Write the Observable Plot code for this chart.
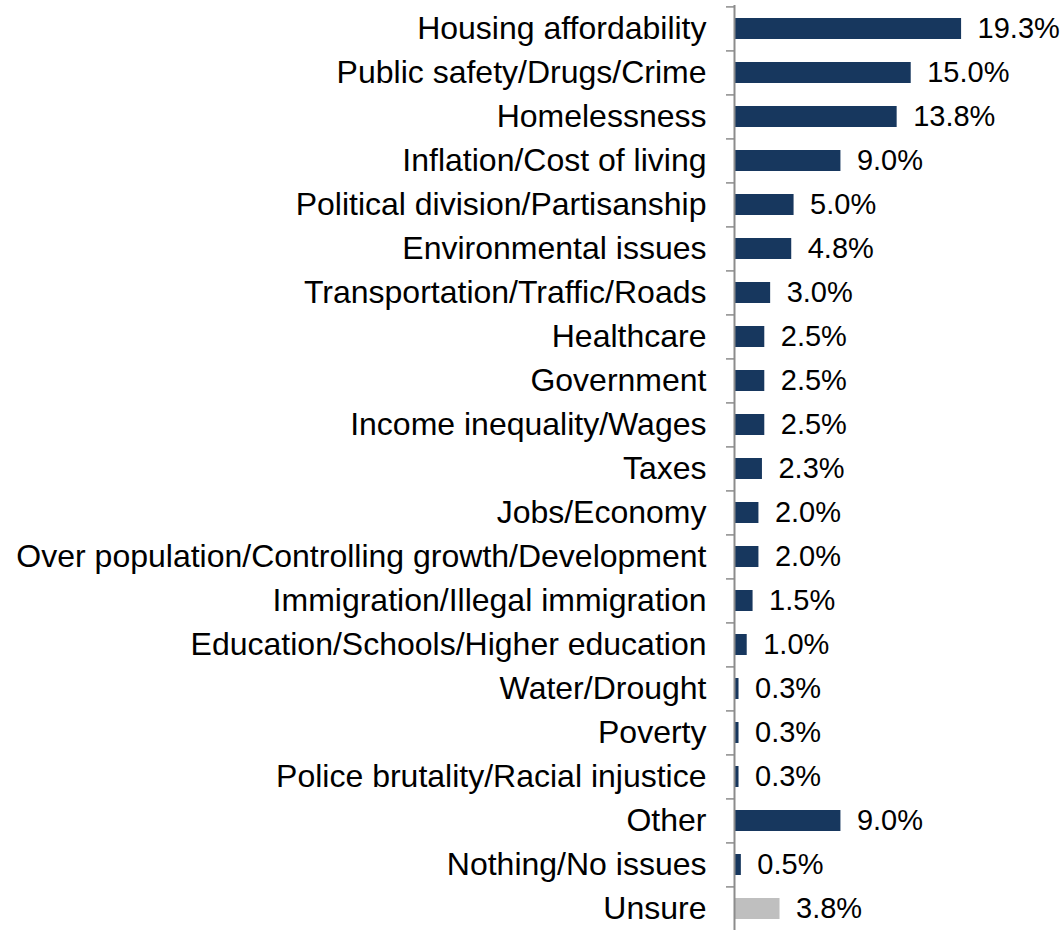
<!DOCTYPE html>
<html>
<head>
<meta charset="utf-8">
<script src="https://cdn.jsdelivr.net/npm/d3@7"></script>
<script src="https://cdn.jsdelivr.net/npm/@observablehq/plot@0.6"></script>
<style>
  html, body { margin: 0; padding: 0; background: #fff; }
  #chart svg { display: block; }
</style>
</head>
<body>
<div id="chart"></div>
<script>
const categories = [
  "Housing affordability",
  "Public safety/Drugs/Crime",
  "Homelessness",
  "Inflation/Cost of living",
  "Political division/Partisanship",
  "Environmental issues",
  "Transportation/Traffic/Roads",
  "Healthcare",
  "Government",
  "Income inequality/Wages",
  "Taxes",
  "Jobs/Economy",
  "Over population/Controlling growth/Development",
  "Immigration/Illegal immigration",
  "Education/Schools/Higher education",
  "Water/Drought",
  "Poverty",
  "Police brutality/Racial injustice",
  "Other",
  "Nothing/No issues",
  "Unsure"
];
const values = [19.3, 15.0, 13.8, 9.0, 5.0, 4.8, 3.0, 2.5, 2.5, 2.5, 2.3, 2.0, 2.0, 1.5, 1.0, 0.3, 0.3, 0.3, 9.0, 0.5, 3.8];
const groups = ["main","main","main","main","main","main","main","main","main","main","main","main","main","main","main","main","main","main","main","main","unsure"];

const data = categories.map((c, i) => ({category: c, value: values[i], group: groups[i]}));

const FONT = "'Liberation Sans', Arial, Helvetica, sans-serif";
const FS_CAT = 32;
const FS_VAL = 29;
const STEP = 44.2;

const chart = Plot.plot({
  width: 1063,
  height: 930,
  marginLeft: 735,
  marginRight: 0,
  marginTop: 5,
  marginBottom: -3,
  style: {fontFamily: FONT, fontSize: FS_CAT + "px", color: "#000", background: "#fff"},
  x: {domain: [0, 28], axis: null},
  y: {domain: categories, paddingInner: 0.52, paddingOuter: 0.26, axis: null, label: null},
  color: {domain: ["main", "unsure"], range: ["#17375E", "#BFBFBF"]},
  marks: [
    Plot.barX(data, {x: "value", y: "category", fill: "group"}),
    Plot.axisY({tickSize: 8, text: null, label: null, dy: -STEP / 2, dx: -1, stroke: "#8c8c8c", strokeWidth: 1.5}),
    Plot.ruleX([0], {dx: -1, stroke: "#8c8c8c", strokeWidth: 2}),
    Plot.axisY({tickSize: 0, tickPadding: 29, label: null, fontSize: FS_CAT, fill: "#000", stroke: null}),
    Plot.text(data, {x: "value", y: "category", text: d => d.value.toFixed(1) + "%", textAnchor: "start", dx: 16, fontSize: FS_VAL, fill: "#000"})
  ]
});
document.getElementById("chart").appendChild(chart);
</script>
</body>
</html>
